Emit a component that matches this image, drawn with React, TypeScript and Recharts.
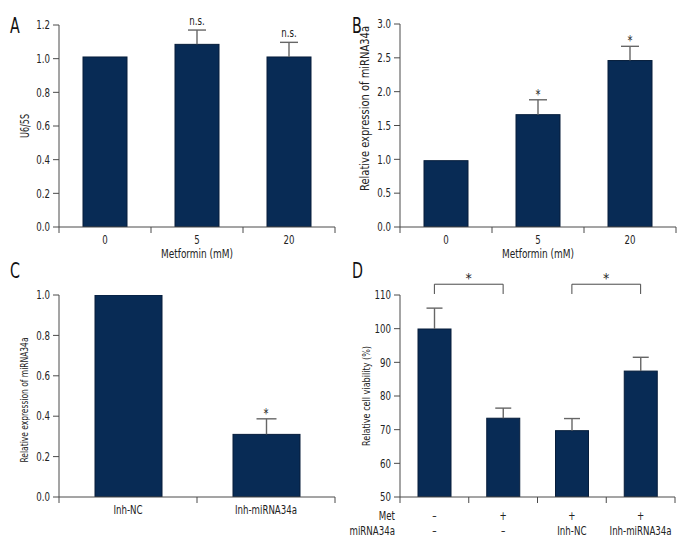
import React from "react";
import {
    ComposedChart,
    Bar,
    Line,
    XAxis,
    YAxis,
    LabelList,
    ReferenceLine,
} from "recharts";

const FONT = "'Liberation Sans Narrow', 'DejaVu Sans Condensed', 'DejaVu Sans', sans-serif";
const NAVY = "#082b55";
const EDGE = "#061d3b";
const AXIS = "#4a4a4a";
const ERR = "#666666";
const INK = "#222222";
const SQ = 0.8; // horizontal squeeze to imitate the condensed face

// panel A
const doseLabels = ["0", "5", "20"];
const u6Values = [1.01, 1.085, 1.01];
const u6Errors = [0, 0.085, 0.087];
const u6Marks = ["", "n.s.", "n.s."];
const u6Ticks = [0, 0.2, 0.4, 0.6, 0.8, 1.0, 1.2];

// panel B
const mirValues = [0.98, 1.66, 2.46];
const mirErrors = [0, 0.22, 0.21];
const mirMarks = ["", "*", "*"];
const mirTicks = [0, 0.5, 1.0, 1.5, 2.0, 2.5, 3.0];

// panel C
const inhLabels = ["Inh-NC", "Inh-miRNA34a"];
const inhValues = [1.0, 0.31];
const inhErrors = [0, 0.077];
const inhMarks = ["", "*"];
const inhTicks = [0, 0.2, 0.4, 0.6, 0.8, 1.0];

// panel D
const groupIds = ["g1", "g2", "g3", "g4"];
const metRow = ["–", "+", "+", "+"];
const mirRow = ["–", "–", "Inh-NC", "Inh-miRNA34a"];
const viabilityValues = [99.9, 73.4, 69.7, 87.4];
const viabilityErrors = [6.2, 3.0, 3.6, 4.1];
const viabilityMarks = ["", "", "", ""];
const viabilityTicks = [50, 60, 70, 80, 90, 100, 110];
const brackets = [
    { from: "g1", to: "g2", level: 113.2, foot: 110.3, mark: "*" },
    { from: "g3", to: "g4", level: 113.2, foot: 110.3, mark: "*" },
];

function rows(names: string[], values: number[], errors: number[], marks: string[]) {
    return names.map((name, i) => ({
        name,
        value: values[i],
        errSize: errors[i],
        top: values[i] + errors[i],
        mark: marks[i],
    }));
}

const fmt1 = (v: number) => v.toFixed(1);
const fmt0 = (v: number) => String(v);

function Squeezed({ x, y, anchor = "middle", size = 12, dy, children }: any) {
    return (
        <text
            transform={`translate(${x} ${y}) scale(${SQ} 1)`}
            textAnchor={anchor}
            fontSize={size}
            fill={INK}
            dy={dy}
        >
            {children}
        </text>
    );
}

function yTitle(text: string, baseX: number, shift: number, size: number, length: number) {
    return (props: any) => {
        const vb = props.viewBox || { x: 0, y: 0, width: 0, height: 0 };
        const x = vb.x + baseX;
        const y = vb.y + vb.height / 2 + shift;
        return (
            <text
                x={0}
                y={0}
                transform={`translate(${x} ${y}) rotate(-90)`}
                textAnchor="middle"
                fontSize={size}
                fill={INK}
                textLength={length}
                lengthAdjust="spacingAndGlyphs"
            >
                {text}
            </text>
        );
    };
}

function xTitle(text: string) {
    return (props: any) => {
        const vb = props.viewBox || { x: 0, y: 0, width: 0, height: 0 };
        return (
            <text
                x={vb.x + vb.width / 2}
                y={vb.y + 31}
                textAnchor="middle"
                fontSize={12}
                fill={INK}
                textLength={72}
                lengthAdjust="spacingAndGlyphs"
            >
                {text}
            </text>
        );
    };
}

function markLabel(props: any) {
    const vb = props.viewBox || {};
    const x = props.x ?? vb.x;
    const y = props.y ?? vb.y;
    const value = props.value;
    if (!value) return null;
    const star = value === "*";
    return (
        <Squeezed x={x} y={y - (star ? 1 : 5)} size={star ? 14 : 12}>
            {value}
        </Squeezed>
    );
}

// bar with an upward-only error whisker, sized from the bar's own pixel scale
function barWithError(base: number, capHalf: number) {
    return (props: any) => {
        const { x, y, width, height, payload } = props;
        const cx = x + width / 2;
        const span = payload.value - base;
        const e = payload.errSize || 0;
        const top = span > 0 ? y - (e * height) / span : y;
        return (
            <g>
                <rect x={x} y={y} width={width} height={height} fill={NAVY} stroke={EDGE} />
                {e > 0 && (
                    <g stroke={ERR} strokeWidth={1.4}>
                        <line x1={cx} y1={y} x2={cx} y2={top} />
                        <line x1={cx - capHalf} y1={top} x2={cx + capHalf} y2={top} />
                    </g>
                )}
            </g>
        );
    };
}

function YTick(props: any) {
    const { x, y, payload, tickFormatter } = props;
    const label = tickFormatter ? tickFormatter(payload.value) : payload.value;
    return (
        <Squeezed x={x} y={y} anchor="end" dy="0.355em">
            {label}
        </Squeezed>
    );
}

function BandTick(props: any) {
    const { x, y, payload, index, visibleTicksCount } = props;
    const half = payload.offset;
    const axisY = y - 8;
    return (
        <g>
            <line x1={x - half} y1={axisY} x2={x - half} y2={axisY + 6} stroke={AXIS} />
            {index === visibleTicksCount - 1 && (
                <line x1={x + half} y1={axisY} x2={x + half} y2={axisY + 6} stroke={AXIS} />
            )}
            <Squeezed x={x} y={axisY + 16.5}>{payload.value}</Squeezed>
        </g>
    );
}

function GroupTick(props: any) {
    const { x, y, payload, index, visibleTicksCount } = props;
    const half = payload.offset;
    const axisY = y - 8;
    return (
        <g>
            <line x1={x - half} y1={axisY} x2={x - half} y2={axisY + 6} stroke={AXIS} />
            {index === visibleTicksCount - 1 && (
                <line x1={x + half} y1={axisY} x2={x + half} y2={axisY + 6} stroke={AXIS} />
            )}
            <Squeezed x={x} y={axisY + 22.7}>{metRow[index]}</Squeezed>
            <Squeezed x={x} y={axisY + 37.7}>{mirRow[index]}</Squeezed>
            {index === 0 && (
                <>
                    <Squeezed x={x - half - 5} y={axisY + 22.7} anchor="end">Met</Squeezed>
                    <Squeezed x={x - half - 5} y={axisY + 37.7} anchor="end">miRNA34a</Squeezed>
                </>
            )}
        </g>
    );
}

function Panel(p: any) {
    return (
        <div style={{ position: "absolute", left: p.left, top: p.top }}>
            <ComposedChart width={p.width} height={p.height} data={p.data} margin={p.margin}>
                <XAxis
                    dataKey="name"
                    interval={0}
                    height={p.xHeight}
                    axisLine={{ stroke: AXIS }}
                    tickLine={false}
                    tickSize={6}
                    tickMargin={2}
                    tick={p.tick}
                    label={p.xTitle ? xTitle(p.xTitle) : undefined}
                />
                <YAxis
                    type="number"
                    domain={p.domain}
                    ticks={p.ticks}
                    interval={0}
                    width={p.yWidth}
                    tickFormatter={p.fmt}
                    axisLine={{ stroke: AXIS }}
                    tickLine={{ stroke: AXIS }}
                    tickSize={6}
                    tickMargin={3}
                    tick={<YTick />}
                    allowDataOverflow
                    label={yTitle(p.yTitle, p.yTitleX, p.yTitleShift, p.yTitleSize, p.yTitleLength)}
                />
                <Bar
                    dataKey="value"
                    barSize={p.barSize}
                    fill={NAVY}
                    isAnimationActive={false}
                    shape={barWithError(p.domain[0], p.capHalf)}
                />
                <Line dataKey="top" stroke="none" dot={false} activeDot={false} isAnimationActive={false}>
                    <LabelList dataKey="mark" content={markLabel} />
                </Line>
                {p.children}
            </ComposedChart>
        </div>
    );
}

export default function App() {
    const dataA = rows(doseLabels, u6Values, u6Errors, u6Marks);
    const dataB = rows(doseLabels, mirValues, mirErrors, mirMarks);
    const dataC = rows(inhLabels, inhValues, inhErrors, inhMarks);
    const dataD = rows(groupIds, viabilityValues, viabilityErrors, viabilityMarks);

    return (
        <div
            style={{
                position: "absolute",
                left: 0,
                top: 0,
                width: 696,
                height: 552,
                background: "#fff",
                fontFamily: FONT,
            }}
        >
            <Panel
                left={0}
                top={0}
                width={348}
                height={276}
                margin={{ top: 25, right: 13, bottom: 9, left: 0 }}
                xHeight={40}
                yWidth={59}
                domain={[0, 1.2]}
                ticks={u6Ticks}
                fmt={fmt1}
                data={dataA}
                barSize={44}
                capHalf={9}
                yTitle="U6/5S"
                yTitleX={29}
                yTitleShift={0}
                yTitleSize={12}
                yTitleLength={24}
                xTitle="Metformin (mM)"
                tick={<BandTick />}
            />
            <Panel
                left={348}
                top={0}
                width={348}
                height={276}
                margin={{ top: 24, right: 20, bottom: 9, left: 0 }}
                xHeight={40}
                yWidth={52}
                domain={[0, 3]}
                ticks={mirTicks}
                fmt={fmt1}
                data={dataB}
                barSize={44}
                capHalf={9}
                yTitle="Relative expression of miRNA34a"
                yTitleX={21}
                yTitleShift={-17}
                yTitleSize={12}
                yTitleLength={165}
                xTitle="Metformin (mM)"
                tick={<BandTick />}
            />
            <Panel
                left={0}
                top={276}
                width={348}
                height={276}
                margin={{ top: 19, right: 13, bottom: 15, left: 0 }}
                xHeight={40}
                yWidth={59}
                domain={[0, 1]}
                ticks={inhTicks}
                fmt={fmt1}
                data={dataC}
                barSize={67}
                capHalf={10}
                yTitle="Relative expression of miRNA34a"
                yTitleX={28}
                yTitleShift={4}
                yTitleSize={11}
                yTitleLength={125}
                tick={<BandTick />}
            />
            <Panel
                left={330}
                top={250}
                width={366}
                height={302}
                margin={{ top: 45, right: 21, bottom: 10, left: 18 }}
                xHeight={45}
                yWidth={52}
                domain={[50, 110]}
                ticks={viabilityTicks}
                fmt={fmt0}
                data={dataD}
                barSize={33}
                capHalf={8}
                yTitle="Relative cell viability (%)"
                yTitleX={22}
                yTitleShift={0}
                yTitleSize={11}
                yTitleLength={100}
                tick={<GroupTick />}
            >
                {brackets.map((b) => [
                    <ReferenceLine
                        key={b.from + "h"}
                        segment={[{ x: b.from, y: b.level }, { x: b.to, y: b.level }]}
                        stroke={AXIS}
                        ifOverflow="visible"
                        label={{ value: b.mark, position: "top", offset: 1, fill: INK, fontSize: 14 }}
                    />,
                    <ReferenceLine
                        key={b.from + "l"}
                        segment={[{ x: b.from, y: b.level }, { x: b.from, y: b.foot }]}
                        stroke={AXIS}
                        ifOverflow="visible"
                    />,
                    <ReferenceLine
                        key={b.from + "r"}
                        segment={[{ x: b.to, y: b.level }, { x: b.to, y: b.foot }]}
                        stroke={AXIS}
                        ifOverflow="visible"
                    />,
                ])}
            </Panel>
            <svg
                width={696}
                height={552}
                style={{ position: "absolute", left: 0, top: 0, pointerEvents: "none" }}
            >
                <g fontSize={22} fill="#111">
                    <text transform="translate(10 33) scale(0.72 1)">A</text>
                    <text transform="translate(352 33) scale(0.72 1)">B</text>
                    <text transform="translate(10 278) scale(0.72 1)">C</text>
                    <text transform="translate(352 278) scale(0.72 1)">D</text>
                </g>
            </svg>
        </div>
    );
}
